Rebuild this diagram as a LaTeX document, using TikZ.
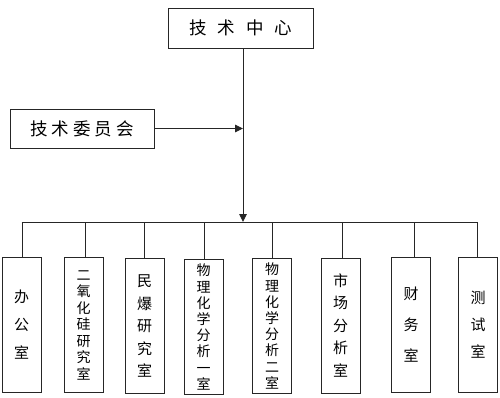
\documentclass[tikz,border=0pt]{standalone}
\usepackage{fontspec}
\newfontfamily\cjk{Noto Sans CJK SC}
\usetikzlibrary{arrows.meta}
\begin{document}
\begin{tikzpicture}[x=1pt,y=-1pt,
  line/.style={draw=black!85,line width=0.9pt},
  arr/.style={line,-{Triangle[length=8pt,width=7.5pt]}},
  topbox/.style={draw=black!85,line width=0.9pt,rectangle,inner sep=0pt,font=\cjk\fontsize{17.5}{18}\selectfont},
  dept/.style={draw=black!85,line width=0.9pt,rectangle,inner sep=0pt,minimum width=39pt,minimum height=135pt,align=center},
]
\useasboundingbox (0,0) rectangle (500,398);
\node[topbox,minimum width=145pt,minimum height=40pt] (tc) at (240.5,28) {技\hspace{11pt}术\hspace{11pt}中\hspace{11pt}心};
\node[topbox,minimum width=144pt,minimum height=39pt] (wc) at (82,128.5) {技\hspace{4pt}术\hspace{4pt}委\hspace{4pt}员\hspace{4pt}会};
\coordinate (j) at (243,222);
\node[dept,font=\cjk\fontsize{15}{28}\selectfont] (b1) at (21.5,324.5) {办\\公\\室};
\node[dept,font=\cjk\fontsize{14}{16.5}\selectfont] (b2) at (83.5,325) {二\\氧\\化\\硅\\研\\究\\室};
\node[dept,font=\cjk\fontsize{15}{22.5}\selectfont] (b3) at (144.5,326) {民\\爆\\研\\究\\室};
\node[dept,font=\cjk\fontsize{14}{16.2}\selectfont] (b4) at (203.5,327) {物\\理\\化\\学\\分\\析\\一\\室};
\node[dept,font=\cjk\fontsize{14}{16.2}\selectfont] (b5) at (272,326) {物\\理\\化\\学\\分\\析\\二\\室};
\node[dept,font=\cjk\fontsize{15}{22.5}\selectfont] (b6) at (340.5,325.5) {市\\场\\分\\析\\室};
\node[dept,font=\cjk\fontsize{15}{31}\selectfont] (b7) at (411,324.5) {财\\务\\室};
\node[dept,font=\cjk\fontsize{15}{27}\selectfont] (b8) at (478,324.5) {测\\试\\室};
\draw[arr] (tc.south -| j) -- (j);
\draw[arr] (wc.east) -- (wc.east -| j);
\draw[line] (b1.north |- j) -- (b8.north |- j);
\foreach \b/\x in {b1/22,b2/85,b3/144,b4/204,b5/272,b6/342,b7/414,b8/477}{
  \draw[line] (\x,222) -- (\b.north -| {(\x,0)});
}
\end{tikzpicture}
\end{document}
